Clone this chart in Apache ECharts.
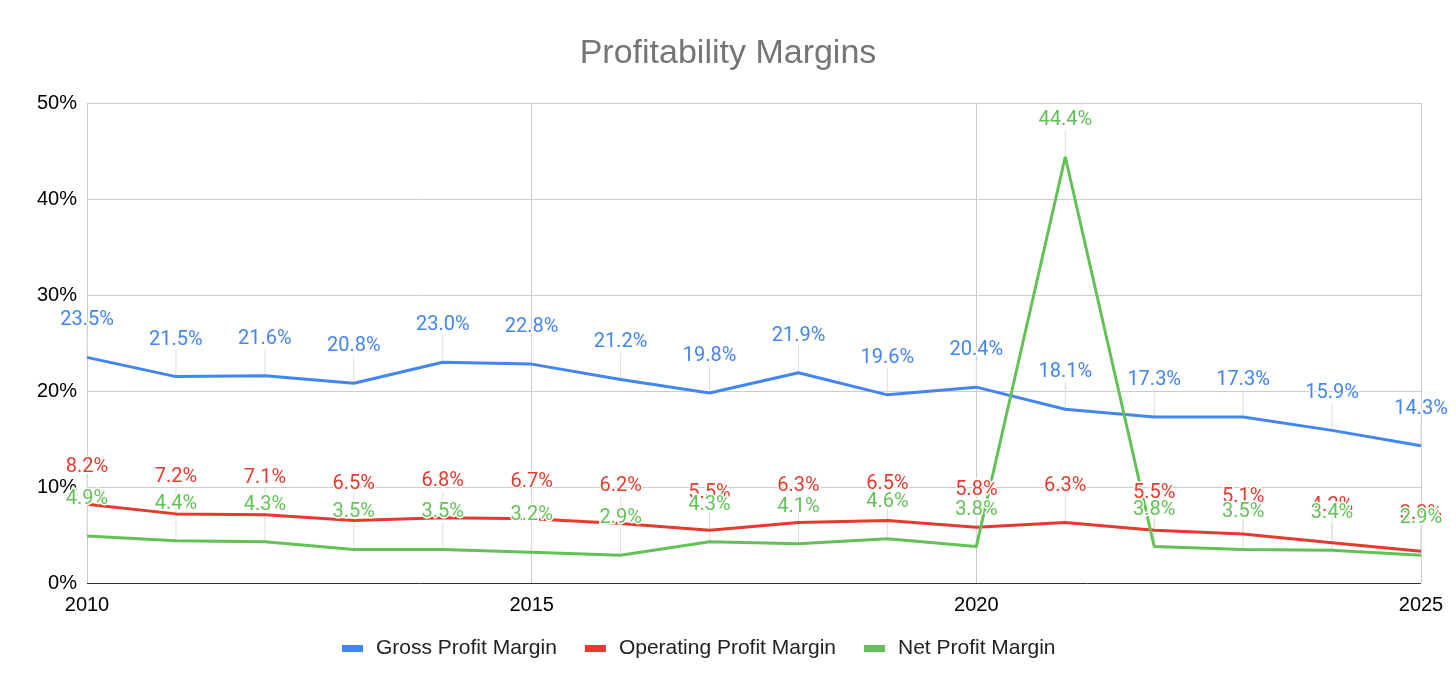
<!DOCTYPE html>
<html lang="en">
<head>
    <meta charset="UTF-8">
    <title>Profitability Margins</title>
    <script src="https://cdn.jsdelivr.net/npm/echarts@6/dist/echarts.min.js"></script>
    <style>
        body { margin: 0; background: #fff; }
        #chart { width: 1456px; height: 694px; }
    </style>
</head>
<body>
    <div id="chart"></div>
    <script>
        // data
        const years = [2010, 2011, 2012, 2013, 2014, 2015, 2016, 2017, 2018, 2019, 2020, 2021, 2022, 2023, 2024, 2025];
        const grossMargin = [23.5, 21.5, 21.6, 20.8, 23.0, 22.8, 21.2, 19.8, 21.9, 19.6, 20.4, 18.1, 17.3, 17.3, 15.9, 14.3];
        const operatingMargin = [8.2, 7.2, 7.1, 6.5, 6.8, 6.7, 6.2, 5.5, 6.3, 6.5, 5.8, 6.3, 5.5, 5.1, 4.2, 3.3];
        const netMargin = [4.9, 4.4, 4.3, 3.5, 3.5, 3.2, 2.9, 4.3, 4.1, 4.6, 3.8, 44.4, 3.8, 3.5, 3.4, 2.9];

        const LABEL_GAP = 27;
        const chart = echarts.init(document.getElementById('chart'));

        function toPoints(values) {
            return values.map((v, i) => [years[i], v]);
        }

        function makeSeries(name, values, color) {
            return {
                name: name,
                type: 'line',
                z: 3,
                data: toPoints(values),
                symbol: 'circle',
                symbolSize: 0,
                showSymbol: true,
                lineStyle: { width: 3, color: color },
                itemStyle: { color: color },
                label: {
                    show: true,
                    position: 'top',
                    distance: LABEL_GAP,
                    formatter: p => p.value[1].toFixed(1) + '%',
                    color: color,
                    fontFamily: 'Roboto',
                    fontSize: 20,
                    textBorderColor: '#fff',
                    textBorderWidth: 3
                },
                emphasis: { disabled: true }
            };
        }

        // thin grey leader line from each point up to its label
        function leaderSeries(values) {
            return {
                type: 'custom',
                silent: true,
                z: 1,
                data: toPoints(values),
                renderItem: (params, api) => {
                    const p = api.coord([api.value(0), api.value(1)]);
                    return {
                        type: 'line',
                        shape: { x1: p[0], y1: p[1], x2: p[0], y2: p[1] - LABEL_GAP },
                        style: { stroke: '#dedede', lineWidth: 1 }
                    };
                }
            };
        }

        chart.setOption({
            animation: false,
            title: {
                text: 'Profitability Margins',
                left: 'center',
                top: 32,
                textStyle: { fontFamily: 'Liberation Sans', fontSize: 34, fontWeight: 'normal', color: '#757575' }
            },
            legend: {
                bottom: 30,
                left: 337,
                itemWidth: 21,
                itemHeight: 7,
                itemGap: 28,
                icon: 'rect',
                textStyle: { fontFamily: 'Liberation Sans', fontSize: 21, color: '#222', padding: [0, 0, 0, 8] },
                data: ['Gross Profit Margin', 'Operating Profit Margin', 'Net Profit Margin']
            },
            grid: { left: 87, right: 35, top: 103, bottom: 111 },
            xAxis: {
                type: 'value',
                min: 2010,
                max: 2025,
                interval: 5,
                axisLine: { show: false },
                axisTick: { show: false },
                axisLabel: { formatter: v => String(v), fontFamily: 'Liberation Sans', fontSize: 20, color: '#000', margin: 12 },
                splitLine: { show: true, lineStyle: { color: '#cccccc', width: 1 } }
            },
            yAxis: {
                type: 'value',
                min: 0,
                max: 50,
                interval: 10,
                axisLine: { show: false },
                axisTick: { show: false },
                axisLabel: { formatter: '{value}%', fontFamily: 'Liberation Sans', fontSize: 20, color: '#000', margin: 10 },
                splitLine: {
                    lineStyle: { color: ['#333', '#cccccc', '#cccccc', '#cccccc', '#cccccc', '#cccccc'], width: 1 }
                }
            },
            series: [
                leaderSeries(grossMargin),
                leaderSeries(operatingMargin),
                leaderSeries(netMargin),
                makeSeries('Gross Profit Margin', grossMargin, '#4285f4'),
                makeSeries('Operating Profit Margin', operatingMargin, '#e8392d'),
                makeSeries('Net Profit Margin', netMargin, '#63c257')
            ]
        });

        window.addEventListener('resize', () => chart.resize());
    </script>
</body>
</html>
